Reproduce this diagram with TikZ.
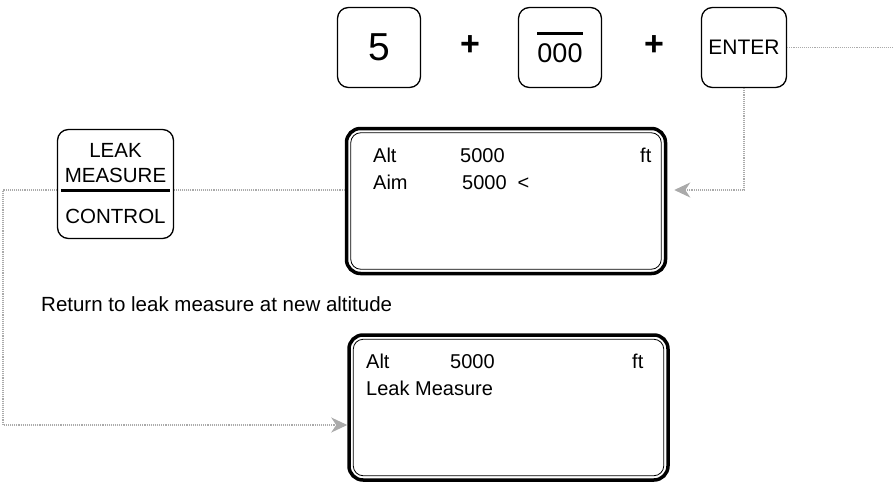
\documentclass[tikz,border=0pt]{standalone}
\usepackage{fontspec}
\setmainfont{Liberation Sans}
\usetikzlibrary{arrows.meta,positioning}
\definecolor{linkgray}{RGB}{170,170,170}
\tikzstyle{keybox} = [draw, fill=white, line width=1.3pt, rounded corners=11pt, minimum width=83pt, minimum height=80pt, inner sep=0pt]
\tikzstyle{screen} = [draw, line width=3.5pt, rounded corners=14pt, minimum width=319pt, minimum height=145pt]
\tikzstyle{rim} = [line width=0.8pt, rounded corners=10pt]
\tikzstyle{flow} = [densely dotted, line width=1.1pt, color=linkgray, >={Stealth[length=16pt,width=15pt,inset=5pt]}]
\tikzstyle{txt} = [anchor=base west, inner sep=0pt, font=\fontsize{20}{24}\selectfont]
\tikzstyle{plus} = [font=\fontsize{34}{38}\selectfont\bfseries]

\begin{document}
\begin{tikzpicture}[x=1pt,y=-1pt]
\useasboundingbox (0,0) rectangle (893,484);

% Keys along the top
\node[keybox, font=\fontsize{39}{42}\selectfont] (five) at (379,47.5) {5};
\node[plus] (plusa) at (470,46) {+};
\node[keybox, font=\fontsize{27}{30}\selectfont] (zeros) at (560,47.5) {\vbox{\hrule height 3pt\kern 8pt\hbox{000}}};
\node[plus] (plusb) at (654,46) {+};
\node[keybox, minimum width=85pt, font=\fontsize{21}{24}\selectfont] (enter) at (744,47.5) {ENTER};

% Displays
\node[screen] (alta) at (506,201) {};
\draw[rim] ([shift={(6pt,-6pt)}]alta.north west) rectangle ([shift={(-6pt,6pt)}]alta.south east);
\node[screen] (altb) at (508.5,407.5) {};
\draw[rim] ([shift={(6pt,-6pt)}]altb.north west) rectangle ([shift={(-6pt,6pt)}]altb.south east);

\node[txt] (alta1) at (373,162) {Alt};
\node[txt] (alta2) at (460,162) {5000};
\node[txt] (alta3) at (640,162) {ft};
\node[txt] (alta4) at (373,189) {Aim};
\node[txt] (alta5) at (462,189) {5000\hspace{11pt}<};

\node[txt] (altb1) at (366,368) {Alt};
\node[txt] (altb2) at (450,368) {5000};
\node[txt] (altb3) at (632,368) {ft};
\node[txt] (altb4) at (366,395) {Leak Measure};

\node[txt, font=\fontsize{20.5}{24}\selectfont] (note) at (41,311) {Return to leak measure at new altitude};

% Connectors
\coordinate (c1) at (3,190);
\coordinate (c2) at (3,425);
\coordinate (c3) at (744,190);
\coordinate (exit) at (893,45);
\draw[flow] (enter.east) -- (enter.east -| exit);
\draw[flow,->] (enter.south) -- (c3) -- ([xshift=7pt]alta.east |- c3);
\draw[flow,->] (alta.west |- c1) -- (c1) -- (c2) -- (altb.west |- c2);

% Leak measure / control key
\node[keybox, minimum width=116pt, minimum height=109pt, align=center, font=\fontsize{20.5}{25}\selectfont] (leak) at (115.5,184) {LEAK\\MEASURE\\[16pt]CONTROL};
\draw[line width=3pt] ([xshift=4pt]leak.west |- c1) -- ([xshift=-4pt]leak.east |- c1);
\end{tikzpicture}
\end{document}
